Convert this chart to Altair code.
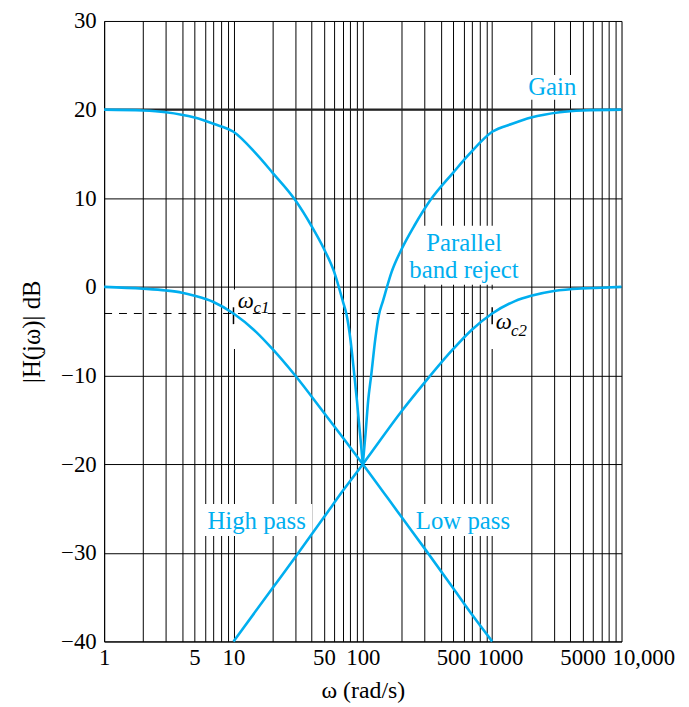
import altair as alt
import pandas as pd

BLUE = "#00AEEF"
FONT = "Liberation Serif"

# ---- curves ----
lp_w = [1, 2, 3, 4, 5, 7, 10, 15, 20, 30, 50, 70, 100, 200, 300, 500, 700, 1000]
lp_db = [0, -0.2, -0.4, -0.65, -1.0, -1.7, -3.0, -5.1, -7.0, -10.0, -14.2, -17.0, -20.0,
         -26.0, -29.5, -34.0, -37.0, -40.0]

hp_w = [10, 20, 30, 50, 70, 100, 200, 300, 500, 700, 1000, 1500, 2000, 3000, 5000, 7000, 10000]
hp_db = [-40, -34, -30.5, -26, -23, -20, -14, -10.8, -7, -4.8, -3, -1.6, -1.0, -0.46,
         -0.17, -0.09, 0]

br_left_w = [1, 2, 3, 5, 7, 10, 15, 20, 30, 40, 50, 60, 70, 75, 80, 86, 90, 95, 100]
br_left_db = [20, 19.9, 19.7, 19.1, 18.4, 17.5, 15.0, 12.9, 9.8, 6.9, 4.3, 1.7, -1.6,
              -3.2, -5.8, -10, -12.8, -16.5, -20]

br_right_w = [100, 105, 110, 116, 125, 133, 143, 167, 200, 250, 333, 500, 667, 1000,
              1430, 2000, 3330, 5000, 10000]
br_right_db = [-20, -16.5, -12.8, -10, -5.8, -3.2, -1.6, 1.7, 4.3, 6.9, 9.8, 12.9, 15.0,
               17.5, 18.4, 19.1, 19.7, 19.9, 20]

# ---- axes ----
grid_x = [1, 2, 3, 4, 5, 6, 7, 8, 9,
          10, 20, 30, 40, 50, 60, 70, 80, 90,
          100, 200, 300, 400, 500, 600, 700, 800, 900,
          1000, 2000, 3000, 4000, 5000, 6000, 7000, 8000, 9000, 10000]
x_labels = [1, 5, 10, 50, 100, 500, 1000, 5000]
y_ticks = [-40, -30, -20, -10, 0, 10, 20, 30]

# ---- annotations ----
gain_db = [20]
cutoff_db = [-3]
cutoff_w = [10, 1000]

labels = pd.DataFrame({
    "w": [2911, 605, 605, 15.1, 594],
    "db": [21.6, 4.0, 1.0, -27.3, -27.3],
    "t": ["Gain", "Parallel", "band reject", "High pass", "Low pass"],
})
boxes = pd.DataFrame({
    "w": [1806, 206, 5.84, 237, 9.6, 957],
    "w2": [4770, 1905, 40.7, 1514, 18.7, 1972],
    "db": [23.9, 6.9, -24.5, -24.5, -0.3, -0.3],
    "db2": [21.1, 0.25, -28.1, -28.1, -7.0, -7.0],
})

curves = pd.concat([
    pd.DataFrame({"s": "lp", "w": lp_w, "db": lp_db}),
    pd.DataFrame({"s": "hp", "w": hp_w, "db": hp_db}),
    pd.DataFrame({"s": "brl", "w": br_left_w, "db": br_left_db}),
    pd.DataFrame({"s": "brr", "w": br_right_w, "db": br_right_db}),
])

xs = alt.Scale(type="log", domain=[1, 10000], nice=False)
ys = alt.Scale(domain=[-40, 30], nice=False, zero=False)

label_expr = ("indexof(" + str(x_labels) + ", datum.value) >= 0 ? format(datum.value, 'd') : "
              "(datum.value == 10000 ? '10,000' : '')")

x_axis = alt.Axis(values=grid_x, grid=True, gridColor="#000", gridOpacity=1, gridWidth=1,
                  ticks=False, domainColor="#000", labelExpr=label_expr, labelFont=FONT,
                  labelFontSize=23, labelColor="#000", labelPadding=5, labelOverlap=False,
                  labelFlush=False,
                  labelOffset={"condition": [{"test": "datum.value == 10000", "value": 22},
                                             {"test": "datum.value == 1000", "value": 8}],
                               "value": 0},
                  title="ω (rad/s)", titleFont=FONT, titleFontSize=24,
                  titleFontWeight="normal", titleColor="#000", titlePadding=10)
y_axis = alt.Axis(values=y_ticks, grid=True, gridColor="#000", gridOpacity=1, gridWidth=1,
                  ticks=False, domainColor="#000", labelFont=FONT, labelFontSize=23,
                  labelColor="#000", labelPadding=8, labelOverlap=False, labelFlush=False,
                  title="|H(jω)| dB", titleFont=FONT, titleFontSize=25,
                  titleFontWeight="normal", titleColor="#000", titlePadding=16)

X = alt.X("w:Q", scale=xs, axis=x_axis)
Y = alt.Y("db:Q", scale=ys, axis=y_axis)

box_layer = alt.Chart(boxes).mark_rect(color="white").encode(
    x=X, x2="w2:Q", y=Y, y2="db2:Q")

gain_line = alt.Chart(pd.DataFrame({"w": [1], "w2": [10000], "db": gain_db})).mark_rule(
    color="#222", strokeWidth=2.2).encode(x=X, x2="w2:Q", y=Y)

dash_line = alt.Chart(pd.DataFrame({"w": [1], "w2": [cutoff_w[1]], "db": cutoff_db})).mark_rule(
    color="#000", strokeWidth=1, strokeDash=[8, 7]).encode(x=X, x2="w2:Q", y=Y)

tick_layer = alt.Chart(pd.DataFrame({"w": cutoff_w, "db": [-2.3, -2.3], "db2": [-4.2, -4.2]})).mark_rule(
    color="#000", strokeWidth=1.5).encode(x=X, y=Y, y2="db2:Q")

curve_layer = alt.Chart(curves).mark_line(color=BLUE, strokeWidth=2.6, interpolate="monotone").encode(
    x=X, y=Y, detail="s:N")

text_layer = alt.Chart(labels).mark_text(color=BLUE, font=FONT, fontSize=25, align="center",
                                         baseline="alphabetic").encode(x=X, y=Y, text="t:N")

omega = pd.DataFrame({"w": [10.8, 1064], "db": [-2.35, -4.7], "t": ["ω", "ω"]})
subs = pd.DataFrame({"w": [14.3, 1400], "db": [-2.9, -5.5], "t": ["c1", "c2"]})
omega_layer = alt.Chart(omega).mark_text(color="#000", font=FONT, fontSize=23, fontStyle="italic",
                                         align="left", baseline="alphabetic").encode(x=X, y=Y, text="t:N")
sub_layer = alt.Chart(subs).mark_text(color="#000", font=FONT, fontSize=17, fontStyle="italic",
                                      align="left", baseline="alphabetic").encode(x=X, y=Y, text="t:N")

chart = alt.layer(box_layer, gain_line, dash_line, tick_layer, curve_layer, text_layer,
                  omega_layer, sub_layer).properties(
    width=522, height=626,
    autosize=alt.AutoSizeParams(type="none"),
    padding={"left": 97, "top": 10, "right": 60, "bottom": 60},
).configure_view(stroke="#000", strokeWidth=1).configure(background="white")

chart.save("out.html", embed_options={"renderer": "svg", "actions": False})
